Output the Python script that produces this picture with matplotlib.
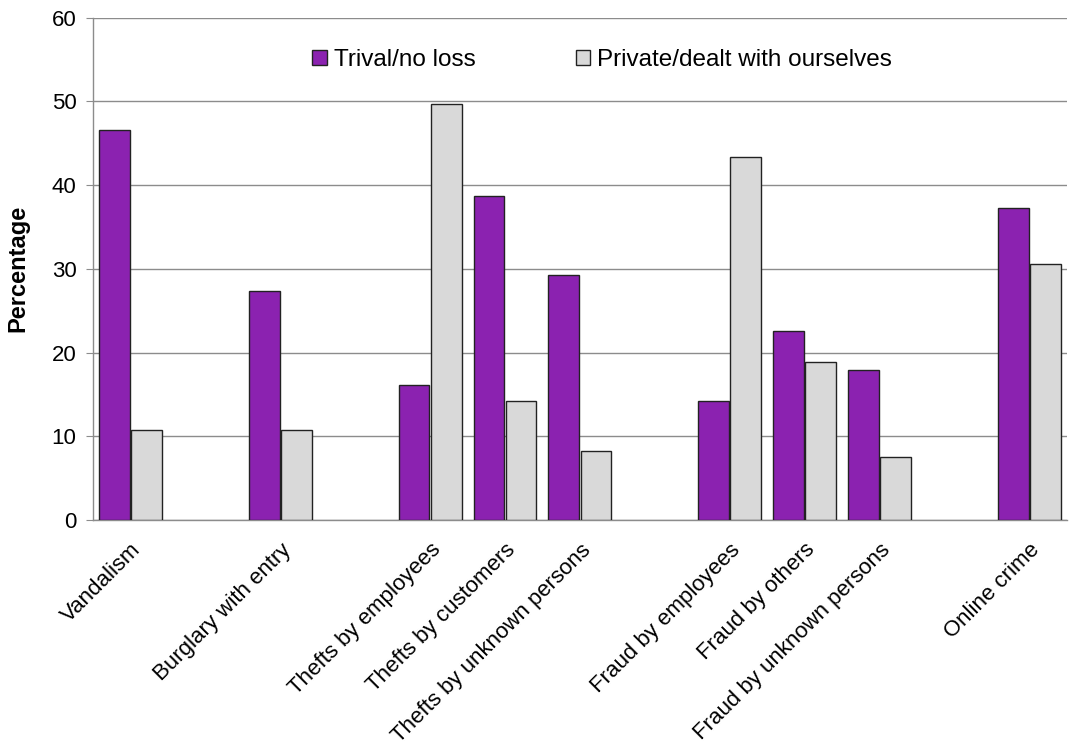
import numpy as np
import matplotlib
matplotlib.use('Agg')
import matplotlib.pyplot as plt

# Crime categories; empty strings leave spacer slots between the groups
categories = ['Vandalism', '', 'Burglary with entry', '',
              'Thefts by employees', 'Thefts by customers', 'Thefts by unknown persons', '',
              'Fraud by employees', 'Fraud by others', 'Fraud by unknown persons', '',
              'Online crime']
trivial = [46.6, np.nan, 27.3, np.nan, 16.1, 38.7, 29.3, np.nan, 14.2, 22.6, 17.9, np.nan, 37.3]
private = [10.8, np.nan, 10.7, np.nan, 49.7, 14.2, 8.2, np.nan, 43.3, 18.9, 7.5, np.nan, 30.6]
series_names = ['Trival/no loss', 'Private/dealt with ourselves']
yticks = [0, 10, 20, 30, 40, 50, 60]

plt.rcParams['font.family'] = ['Liberation Sans', 'DejaVu Sans']

fig = plt.figure(figsize=(10.7, 7.52), dpi=100)
ax = fig.add_axes([0.087, 0.3085, 0.91, 0.668])

x = np.arange(len(categories))
w = 0.41
ax.bar(x - 0.215, trivial, w, color='#8B22B0', edgecolor='#222222', linewidth=1, label=series_names[0], zorder=3)
ax.bar(x + 0.215, private, w, color='#D9D9D9', edgecolor='#222222', linewidth=1, label=series_names[1], zorder=3)

ax.set_xlim(-0.5, len(categories) - 0.5)
ax.set_ylim(0, 60)
ax.set_yticks(yticks)
ax.yaxis.grid(True, color='#8c8c8c', linewidth=1, zorder=0)
ax.set_axisbelow(True)

for s in ['top', 'right']:
    ax.spines[s].set_visible(False)
for s in ['left', 'bottom']:
    ax.spines[s].set_color('#8c8c8c')
    ax.spines[s].set_linewidth(1)

ax.tick_params(axis='y', labelsize=16, length=5, color='#8c8c8c', pad=7)
ax.tick_params(axis='x', length=0, pad=14)
ax.set_xticks(x)
ax.set_xticklabels(categories, rotation=45, ha='right', rotation_mode='anchor', fontsize=16)

ax.set_ylabel('Percentage', fontsize=17, fontweight='bold')
ax.yaxis.set_label_coords(-0.065, 0.5)

ax.legend(loc='center', bbox_to_anchor=(0.523, 0.916), ncol=2, frameon=False,
          fontsize=17.5, handlelength=0.6, handleheight=0.6, handletextpad=0.3,
          columnspacing=4.1)

plt.savefig('out.png', dpi=100)
